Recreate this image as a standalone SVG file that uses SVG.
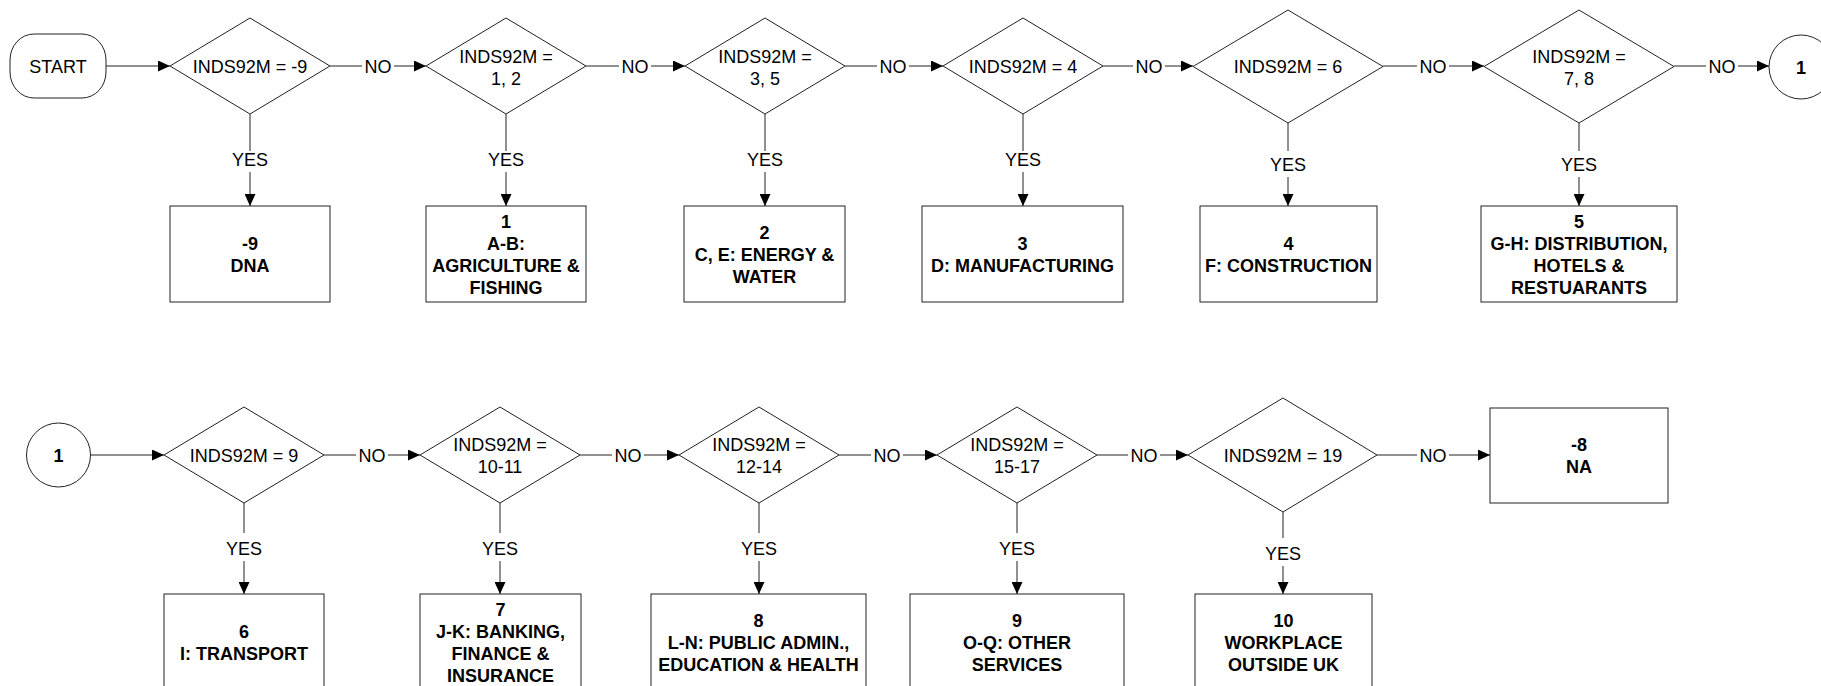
<svg xmlns="http://www.w3.org/2000/svg" width="1821" height="686" viewBox="0 0 1821 686">
<style>
.s{fill:#fff;stroke:#222;stroke-width:1}
.c{fill:none;stroke:#222;stroke-width:1}
.a{marker-end:url(#ah)}
text{font-family:"Liberation Sans",Arial,sans-serif;font-size:18px;fill:#000;text-anchor:middle}
.b{font-weight:bold}
</style>
<defs>
<marker id="ah" markerUnits="userSpaceOnUse" markerWidth="12" markerHeight="11" refX="12" refY="5.5" orient="auto">
<path d="M0,0 L12,5.5 L0,11 Z" fill="#000"/>
</marker>
</defs>
<rect width="1821" height="686" fill="#fff"/>
<g id="connectors">
<line class="c a" x1="106" y1="66" x2="170" y2="66"/>
<line class="c" x1="330" y1="66" x2="362" y2="66"/><line class="c a" x1="394" y1="66" x2="426" y2="66"/><text x="378" y="72.5">NO</text>
<line class="c" x1="586" y1="66" x2="619" y2="66"/><line class="c a" x1="651" y1="66" x2="685" y2="66"/><text x="635" y="72.5">NO</text>
<line class="c" x1="845" y1="66" x2="877" y2="66"/><line class="c a" x1="909" y1="66" x2="943" y2="66"/><text x="893" y="72.5">NO</text>
<line class="c" x1="1103" y1="66" x2="1133" y2="66"/><line class="c a" x1="1165" y1="66" x2="1193" y2="66"/><text x="1149" y="72.5">NO</text>
<line class="c" x1="1383" y1="66" x2="1417" y2="66"/><line class="c a" x1="1449" y1="66" x2="1484" y2="66"/><text x="1433" y="72.5">NO</text>
<line class="c" x1="1674" y1="66" x2="1706" y2="66"/><line class="c a" x1="1738" y1="66" x2="1769" y2="66"/><text x="1722" y="72.5">NO</text>
<line class="c" x1="250" y1="114" x2="250" y2="151"/><line class="c a" x1="250" y1="172" x2="250" y2="206"/><text x="250" y="165.5">YES</text>
<line class="c" x1="506" y1="114" x2="506" y2="151"/><line class="c a" x1="506" y1="172" x2="506" y2="206"/><text x="506" y="165.5">YES</text>
<line class="c" x1="765" y1="114" x2="765" y2="151"/><line class="c a" x1="765" y1="172" x2="765" y2="206"/><text x="765" y="165.5">YES</text>
<line class="c" x1="1023" y1="114" x2="1023" y2="151"/><line class="c a" x1="1023" y1="172" x2="1023" y2="206"/><text x="1023" y="165.5">YES</text>
<line class="c" x1="1288" y1="123" x2="1288" y2="151"/><line class="c a" x1="1288" y1="177" x2="1288" y2="206"/><text x="1288" y="170.5">YES</text>
<line class="c" x1="1579" y1="123" x2="1579" y2="151"/><line class="c a" x1="1579" y1="177" x2="1579" y2="206"/><text x="1579" y="170.5">YES</text>
<line class="c a" x1="90.5" y1="455" x2="164" y2="455"/>
<line class="c" x1="324" y1="455" x2="356" y2="455"/><line class="c a" x1="388" y1="455" x2="420" y2="455"/><text x="372" y="461.5">NO</text>
<line class="c" x1="580" y1="455" x2="612" y2="455"/><line class="c a" x1="644" y1="455" x2="679" y2="455"/><text x="628" y="461.5">NO</text>
<line class="c" x1="839" y1="455" x2="871" y2="455"/><line class="c a" x1="903" y1="455" x2="937" y2="455"/><text x="887" y="461.5">NO</text>
<line class="c" x1="1097" y1="455" x2="1128" y2="455"/><line class="c a" x1="1160" y1="455" x2="1188" y2="455"/><text x="1144" y="461.5">NO</text>
<line class="c" x1="1377" y1="455" x2="1417" y2="455"/><line class="c a" x1="1449" y1="455" x2="1490" y2="455"/><text x="1433" y="461.5">NO</text>
<line class="c" x1="244" y1="503" x2="244" y2="533"/><line class="c a" x1="244" y1="561" x2="244" y2="594"/><text x="244" y="554.5">YES</text>
<line class="c" x1="500" y1="503" x2="500" y2="533"/><line class="c a" x1="500" y1="561" x2="500" y2="594"/><text x="500" y="554.5">YES</text>
<line class="c" x1="759" y1="503" x2="759" y2="533"/><line class="c a" x1="759" y1="561" x2="759" y2="594"/><text x="759" y="554.5">YES</text>
<line class="c" x1="1017" y1="503" x2="1017" y2="533"/><line class="c a" x1="1017" y1="561" x2="1017" y2="594"/><text x="1017" y="554.5">YES</text>
<line class="c" x1="1283" y1="512" x2="1283" y2="538"/><line class="c a" x1="1283" y1="566" x2="1283" y2="594"/><text x="1283" y="559.5">YES</text>
</g>
<g id="start"><rect class="s" x="10" y="34" width="96" height="64" rx="24" ry="26"/><text x="58" y="72.5">START</text></g>
<g id="d1"><polygon class="s" points="170,66 250,18 330,66 250,114"/><text x="250" y="72.5">INDS92M = -9</text></g>
<g id="d2"><polygon class="s" points="426,66 506,18 586,66 506,114"/><text x="506" y="62.5">INDS92M =<tspan x="506" dy="22">1, 2</tspan></text></g>
<g id="d3"><polygon class="s" points="685,66 765,18 845,66 765,114"/><text x="765" y="62.5">INDS92M =<tspan x="765" dy="22">3, 5</tspan></text></g>
<g id="d4"><polygon class="s" points="943,66 1023,18 1103,66 1023,114"/><text x="1023" y="72.5">INDS92M = 4</text></g>
<g id="d5"><polygon class="s" points="1193,66.5 1288,10 1383,66.5 1288,123"/><text x="1288" y="72.5">INDS92M = 6</text></g>
<g id="d6"><polygon class="s" points="1484,66.5 1579,10 1674,66.5 1579,123"/><text x="1579" y="62.5">INDS92M =<tspan x="1579" dy="22">7, 8</tspan></text></g>
<g id="c1"><circle class="s" cx="1801" cy="67" r="32"/><text class="b" x="1801" y="73.5">1</text></g>
<g id="b1"><rect class="s" x="170" y="206" width="160" height="96"/><text class="b" x="250" y="249.5">-9<tspan x="250" dy="22">DNA</tspan></text></g>
<g id="b2"><rect class="s" x="426" y="206" width="160" height="96"/><text class="b" x="506" y="227.5">1<tspan x="506" dy="22">A-B:</tspan><tspan x="506" dy="22">AGRICULTURE &amp;</tspan><tspan x="506" dy="22">FISHING</tspan></text></g>
<g id="b3"><rect class="s" x="684" y="206" width="161" height="96"/><text class="b" x="764.5" y="238.5">2<tspan x="764.5" dy="22">C, E: ENERGY &amp;</tspan><tspan x="764.5" dy="22">WATER</tspan></text></g>
<g id="b4"><rect class="s" x="922" y="206" width="201" height="96"/><text class="b" x="1022.5" y="249.5">3<tspan x="1022.5" dy="22">D: MANUFACTURING</tspan></text></g>
<g id="b5"><rect class="s" x="1200" y="206" width="177" height="96"/><text class="b" x="1288.5" y="249.5">4<tspan x="1288.5" dy="22">F: CONSTRUCTION</tspan></text></g>
<g id="b6"><rect class="s" x="1481" y="206" width="196" height="96"/><text class="b" x="1579" y="227.5">5<tspan x="1579" dy="22">G-H: DISTRIBUTION,</tspan><tspan x="1579" dy="22">HOTELS &amp;</tspan><tspan x="1579" dy="22">RESTUARANTS</tspan></text></g>
<g id="c2"><circle class="s" cx="58.5" cy="455" r="32"/><text class="b" x="58.5" y="461.5">1</text></g>
<g id="d7"><polygon class="s" points="164,455 244,407 324,455 244,503"/><text x="244" y="461.5">INDS92M = 9</text></g>
<g id="d8"><polygon class="s" points="420,455 500,407 580,455 500,503"/><text x="500" y="450.5">INDS92M =<tspan x="500" dy="22">10-11</tspan></text></g>
<g id="d9"><polygon class="s" points="679,455 759,407 839,455 759,503"/><text x="759" y="450.5">INDS92M =<tspan x="759" dy="22">12-14</tspan></text></g>
<g id="d10"><polygon class="s" points="937,455 1017,407 1097,455 1017,503"/><text x="1017" y="450.5">INDS92M =<tspan x="1017" dy="22">15-17</tspan></text></g>
<g id="d11"><polygon class="s" points="1188,455 1283,398 1377,455 1283,512"/><text x="1283" y="461.5">INDS92M = 19</text></g>
<g id="na"><rect class="s" x="1490" y="408" width="178" height="95"/><text class="b" x="1579" y="450.5">-8<tspan x="1579" dy="22">NA</tspan></text></g>
<g id="b7"><rect class="s" x="164" y="594" width="160" height="96"/><text class="b" x="244" y="637.5">6<tspan x="244" dy="22">I: TRANSPORT</tspan></text></g>
<g id="b8"><rect class="s" x="420" y="594" width="161" height="96"/><text class="b" x="500.5" y="615.5">7<tspan x="500.5" dy="22">J-K: BANKING,</tspan><tspan x="500.5" dy="22">FINANCE &amp;</tspan><tspan x="500.5" dy="22">INSURANCE</tspan></text></g>
<g id="b9"><rect class="s" x="651" y="594" width="215" height="96"/><text class="b" x="758.5" y="626.5">8<tspan x="758.5" dy="22">L-N: PUBLIC ADMIN.,</tspan><tspan x="758.5" dy="22">EDUCATION &amp; HEALTH</tspan></text></g>
<g id="b10"><rect class="s" x="910" y="594" width="214" height="96"/><text class="b" x="1017" y="626.5">9<tspan x="1017" dy="22">O-Q: OTHER</tspan><tspan x="1017" dy="22">SERVICES</tspan></text></g>
<g id="b11"><rect class="s" x="1195" y="594" width="177" height="96"/><text class="b" x="1283.5" y="626.5">10<tspan x="1283.5" dy="22">WORKPLACE</tspan><tspan x="1283.5" dy="22">OUTSIDE UK</tspan></text></g>
</svg>
